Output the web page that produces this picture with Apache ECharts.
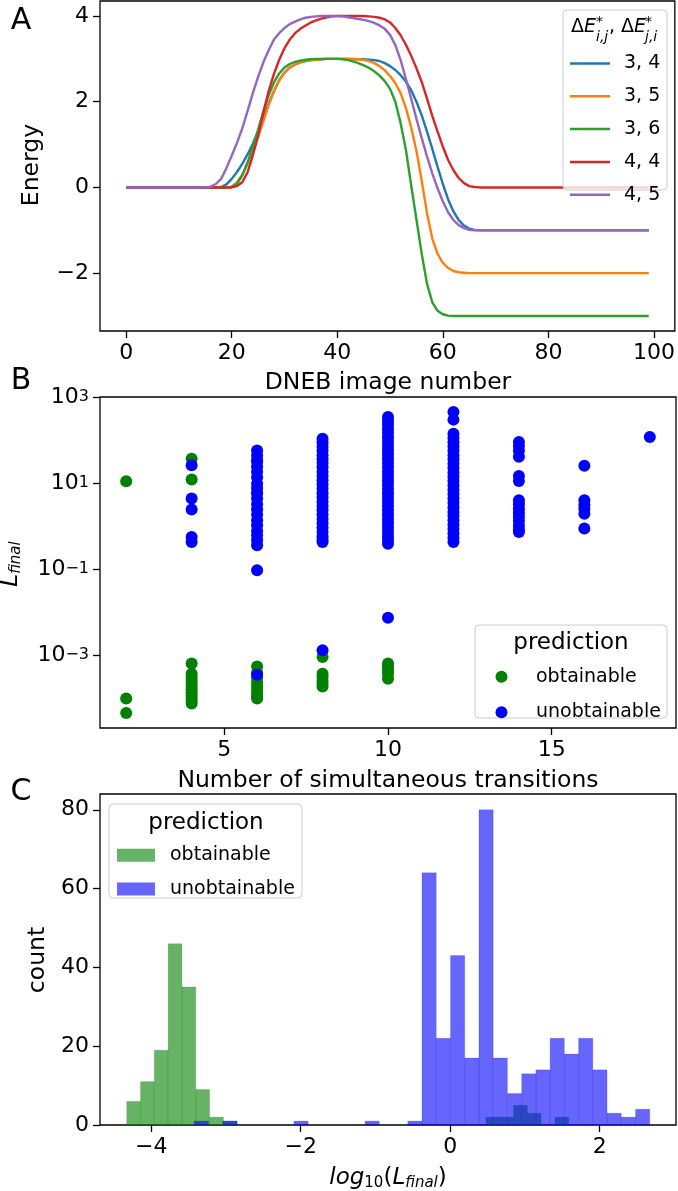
<!DOCTYPE html>
<html><head><meta charset="utf-8">
<script src="https://cdn.jsdelivr.net/npm/echarts@6/dist/echarts.min.js"></script>
<style>html,body{margin:0;padding:0;background:#fff}#c{width:678px;height:1191px}</style>
</head><body><div id="c"></div><script>
// ---------- Panel A: DNEB energy profiles (image number 0..99) ----------
const energy34 = [0,0,0,0,0,0,0,0,0,0,0,0,0,0,0,0,0,0,
  0.01,0.07,0.2,0.36,0.55,0.77,1.02,1.3,1.62,1.95,2.25,2.5,2.68,2.8,2.87,2.92,2.95,2.97,2.98,2.99,3.0,3.0,3.0,3.0,3.0,3.0,2.99,2.99,2.98,2.97,2.95,2.9,2.83,2.74,2.62,2.47,2.27,2.0,1.68,1.3,0.9,0.48,0.08,-0.28,-0.56,-0.76,-0.89,-0.96,-0.99,
  -1,-1,-1,-1,-1,-1,-1,-1,-1,-1,-1,-1,-1,-1,-1,-1,-1,-1,-1,-1,-1,-1,-1,-1,-1,-1,-1,-1,-1,-1,-1,-1,-1];
const energy35 = [0,0,0,0,0,0,0,0,0,0,0,0,0,0,0,0,0,0,0,0,
  0.02,0.12,0.3,0.55,0.85,1.18,1.55,1.92,2.24,2.5,2.68,2.8,2.87,2.92,2.95,2.97,2.98,2.99,3.0,3.0,3.0,3.0,3.0,2.99,2.99,2.98,2.95,2.9,2.83,2.73,2.6,2.43,2.2,1.85,1.4,0.85,0.15,-0.6,-1.2,-1.55,-1.76,-1.88,-1.95,-1.98,-1.99,
  -2,-2,-2,-2,-2,-2,-2,-2,-2,-2,-2,-2,-2,-2,-2,-2,-2,-2,-2,-2,-2,-2,-2,-2,-2,-2,-2,-2,-2,-2,-2,-2,-2,-2,-2];
const energy36 = [0,0,0,0,0,0,0,0,0,0,0,0,0,0,0,0,0,0,0,0,
  0.01,0.08,0.28,0.58,0.95,1.35,1.78,2.15,2.45,2.66,2.8,2.88,2.93,2.96,2.98,2.99,3.0,3.0,3.0,3.0,3.0,2.99,2.97,2.94,2.9,2.85,2.79,2.71,2.61,2.48,2.3,2.0,1.5,0.88,0.05,-0.75,-1.55,-2.25,-2.68,-2.88,-2.96,-2.99,
  -3,-3,-3,-3,-3,-3,-3,-3,-3,-3,-3,-3,-3,-3,-3,-3,-3,-3,-3,-3,-3,-3,-3,-3,-3,-3,-3,-3,-3,-3,-3,-3,-3,-3,-3,-3,-3,-3];
const energy44 = [0,0,0,0,0,0,0,0,0,0,0,0,0,0,0,0,0,0,0,0,
  0.0,0.03,0.12,0.35,0.75,1.2,1.75,2.25,2.65,2.98,3.25,3.45,3.6,3.7,3.78,3.85,3.9,3.94,3.97,3.99,4.0,4.0,4.0,4.0,4.0,4.0,3.99,3.98,3.96,3.92,3.85,3.72,3.55,3.33,3.07,2.78,2.46,2.07,1.67,1.3,0.95,0.64,0.4,0.22,0.1,0.03,0.01,
  0,0,0,0,0,0,0,0,0,0,0,0,0,0,0,0,0,0,0,0,0,0,0,0,0,0,0,0,0,0,0,0,0];
const energy45 = [0,0,0,0,0,0,0,0,0,0,0,0,0,0,0,0,
  0.02,0.08,0.2,0.45,0.74,1.04,1.38,1.78,2.2,2.58,2.92,3.2,3.45,3.6,3.72,3.81,3.87,3.92,3.96,3.98,3.99,4.0,4.0,4.0,4.0,3.99,3.97,3.95,3.93,3.91,3.88,3.84,3.78,3.7,3.56,3.32,2.97,2.53,2.07,1.6,1.15,0.72,0.33,-0.02,-0.33,-0.58,-0.76,-0.88,-0.95,-0.99,
  -1,-1,-1,-1,-1,-1,-1,-1,-1,-1,-1,-1,-1,-1,-1,-1,-1,-1,-1,-1,-1,-1,-1,-1,-1,-1,-1,-1,-1,-1,-1,-1,-1,-1];
const lineNames = ['3, 4', '3, 5', '3, 6', '4, 4', '4, 5'];
const lineValues = [energy34, energy35, energy36, energy44, energy45];
const energyTicks = [-2, 0, 2, 4];
const imageTicks = [0, 20, 40, 60, 80, 100];

// ---------- Panel B: L_final vs number of simultaneous transitions ----------
const obtainablePoints = [
  [2, 11.3], [2, 1.0e-4], [2, 4.6e-5],
  [4, 38], [4, 12.4], [4, 6.5e-4], [4, 3.8e-4], [4, 3.2e-4], [4, 2.7e-4], [4, 2.3e-4], [4, 1.95e-4],
  [4, 1.65e-4], [4, 1.4e-4], [4, 1.2e-4], [4, 1.0e-4], [4, 8.8e-5], [4, 7.7e-5],
  [6, 35], [6, 6.4], [6, 5.6e-4], [6, 4.0e-4], [6, 3.0e-4], [6, 2.4e-4], [6, 1.9e-4], [6, 1.55e-4],
  [6, 1.3e-4], [6, 1.1e-4], [6, 1.0e-4],
  [8, 9.3e-4], [8, 3.8e-4], [8, 3.2e-4], [8, 2.6e-4], [8, 2.2e-4], [8, 1.9e-4],
  [10, 6.5e-4], [10, 5.5e-4], [10, 4.6e-4], [10, 3.8e-4], [10, 2.9e-4]
];
const unobtainablePoints = [
  [4, 26.7], [4, 4.5], [4, 2.5], [4, 0.57], [4, 0.44],
  [6, 59], [6, 45], [6, 33], [6, 25], [6, 19], [6, 14], [6, 10], [6, 7.9], [6, 6.0], [6, 4.5], [6, 3.3],
  [6, 2.5], [6, 1.9], [6, 1.4], [6, 1.07], [6, 0.79], [6, 0.63], [6, 0.48], [6, 0.37], [6, 0.096], [6, 3.6e-4],
  [8, 111], [8, 90], [8, 72], [8, 58], [8, 46], [8, 37], [8, 30], [8, 24], [8, 19], [8, 15], [8, 12], [8, 9.5],
  [8, 7.6], [8, 6.0], [8, 4.8], [8, 3.8], [8, 3.0], [8, 2.4], [8, 1.9], [8, 1.5], [8, 1.2], [8, 0.95], [8, 0.76],
  [8, 0.6], [8, 0.5], [8, 0.44], [8, 1.33e-3],
  [10, 354], [10, 290], [10, 240], [10, 190], [10, 150], [10, 120], [10, 95], [10, 75], [10, 60], [10, 48],
  [10, 38], [10, 30], [10, 24], [10, 19], [10, 15], [10, 12], [10, 9.5], [10, 7.5], [10, 6], [10, 4.8], [10, 3.8],
  [10, 3.0], [10, 2.4], [10, 1.9], [10, 1.5], [10, 1.2], [10, 0.95], [10, 0.75], [10, 0.6], [10, 0.5], [10, 0.4], [10, 7.6e-3],
  [12, 462], [12, 308], [12, 145], [12, 115], [12, 92], [12, 73], [12, 58], [12, 46], [12, 37], [12, 29], [12, 23],
  [12, 18], [12, 14.5], [12, 11.5], [12, 9], [12, 7.2], [12, 5.7], [12, 4.5], [12, 3.6], [12, 2.8], [12, 2.2],
  [12, 1.8], [12, 1.4], [12, 1.1], [12, 0.88], [12, 0.7], [12, 0.55], [12, 0.44],
  [14, 93], [14, 75], [14, 58], [14, 42], [14, 15], [14, 11.5], [14, 4.1], [14, 3.3], [14, 2.6], [14, 2.1],
  [14, 1.7], [14, 1.35], [14, 1.05], [14, 0.85], [14, 0.75],
  [16, 26.2], [16, 4.1], [16, 3.2], [16, 2.6], [16, 2.0], [16, 0.9],
  [18, 121]
];
const transitionTicks = [5, 10, 15];
const logTicks = [-3, -1, 1, 3];

// ---------- Panel C: histogram of log10(L_final) ----------
const obtainableBinStart = -4.328, obtainableBinWidth = 0.1848;
const obtainableCounts = [6, 11, 19, 46, 35, 9, 2, 1, 0, 0, 0, 0, 0, 0, 0, 0, 0, 0, 0, 0, 0, 0, 0, 0, 0, 0, 2, 2, 5, 3, 0, 2];
const unobtainableBinStart = -3.424, unobtainableBinWidth = 0.1904;
const unobtainableCounts = [1, 0, 1, 0, 0, 0, 0, 1, 0, 0, 0, 0, 1, 0, 0, 1, 64, 22, 43, 17, 80, 17, 8, 13, 14, 22, 18, 22, 14, 3, 2, 4];
const histXTicks = [-4, -2, 0, 2];
const countTicks = [0, 20, 40, 60, 80];

// ---------- build ----------
const FONT = 'DejaVu Sans';
const BLACK = '#000';
const lineColors = ['#1f77b4', '#ff7f0e', '#2ca02c', '#d62728', '#9467bd'];
const minus = v => String(v).replace('-', '\u2212');
const chart = echarts.init(document.getElementById('c'), null, {renderer: 'canvas', width: 678, height: 1191});

const tickStyle = {show: true, length: 7, lineStyle: {color: BLACK, width: 1.3}};
const labelBase = {color: BLACK, fontFamily: FONT, fontSize: 22};
function valueAxis(gi, min, max, ticks, margin, extraLabel) {
  return {
    type: 'value', gridIndex: gi, min, max,
    axisLine: {show: false, onZero: false}, splitLine: {show: false},
    axisTick: Object.assign({customValues: ticks}, tickStyle),
    axisLabel: Object.assign({customValues: ticks, margin, formatter: v => minus(v)}, labelBase, extraLabel || {})
  };
}

const histData = (start, width, counts) =>
  counts.map((c, k) => [start + k * width, start + (k + 1) * width, c]).filter(d => d[2] > 0);
const histRender = (fill, stroke) => function (params, api) {
  const a = api.coord([api.value(0), api.value(2)]);
  const b = api.coord([api.value(1), 0]);
  return {type: 'rect', shape: {x: a[0], y: a[1], width: b[0] - a[0], height: b[1] - a[1]},
    style: {fill, stroke, lineWidth: 0.6}};
};
const GREEN_H = 'rgba(0,128,0,0.6)', BLUE_H = 'rgba(0,0,255,0.6)';

const series = [];
lineNames.forEach((name, k) => {
  series.push({type: 'line', name, xAxisIndex: 0, yAxisIndex: 0, symbol: 'none', showSymbol: false,
    data: lineValues[k].map((v, i) => [i, v]), lineStyle: {width: 2.4, color: lineColors[k]},
    itemStyle: {color: lineColors[k]}, animation: false, z: 2});
});
series.push({type: 'scatter', name: 'B_obt', xAxisIndex: 1, yAxisIndex: 1, symbolSize: 12,
  itemStyle: {color: '#008000', opacity: 1}, data: obtainablePoints.map(p => [p[0], Math.log10(p[1])]), animation: false});
series.push({type: 'scatter', name: 'B_unobt', xAxisIndex: 1, yAxisIndex: 1, symbolSize: 12,
  itemStyle: {color: '#0000ff', opacity: 1}, data: unobtainablePoints.map(p => [p[0], Math.log10(p[1])]), animation: false});
series.push({type: 'custom', name: 'C_obt', xAxisIndex: 2, yAxisIndex: 2, itemStyle: {color: GREEN_H},
  encode: {x: [0, 1], y: 2}, renderItem: histRender(GREEN_H, 'rgba(0,100,0,0.25)'),
  data: histData(obtainableBinStart, obtainableBinWidth, obtainableCounts), animation: false});
series.push({type: 'custom', name: 'C_unobt', xAxisIndex: 2, yAxisIndex: 2, itemStyle: {color: BLUE_H},
  encode: {x: [0, 1], y: 2}, renderItem: histRender(BLUE_H, 'rgba(0,0,160,0.25)'),
  data: histData(unobtainableBinStart, unobtainableBinWidth, unobtainableCounts), animation: false});

const legendText = {fontFamily: FONT, fontSize: 19, color: BLACK};
const legendName = n => n.replace(/^[BC]_/, '').replace('unobt', 'unobtainable').replace(/^obt$/, 'obtainable');

function txt(x, y, text, size, extra) {
  return Object.assign({type: 'text', x, y, z: 12,
    style: Object.assign({text, fontFamily: FONT, fontSize: size, fill: BLACK,
      align: 'center', verticalAlign: 'middle', textAlign: 'center', textVerticalAlign: 'middle'}, (extra && extra.style) || {})},
    extra && extra.rotation ? {rotation: extra.rotation} : {});
}
function box(x, y, w, h) {
  return {type: 'rect', z: 8, shape: {x, y, width: w, height: h, r: 4},
    style: {fill: 'rgba(255,255,255,0.8)', stroke: '#cccccc', lineWidth: 1}};
}
const R90 = Math.PI / 2;
const richMain = {n: {fontSize: 19, fontFamily: FONT}, i: {fontSize: 19, fontStyle: 'italic', fontFamily: FONT}};
const graphics = [
  box(563, 10, 104, 180), box(475, 625, 192, 93), box(109, 804, 193, 94),
  // legend A title
  txt(571, 27, '{n|\u0394}{i|E}', 19, {style: {align: 'left', textAlign: 'left', rich: richMain}}),
  txt(596, 22, '*', 14, {style: {align: 'left', textAlign: 'left'}}),
  txt(596, 37, 'i,j', 14, {style: {align: 'left', textAlign: 'left', fontStyle: 'italic'}}),
  txt(609, 27, '{n|, \u0394}{i|E}', 19, {style: {align: 'left', textAlign: 'left', rich: richMain}}),
  txt(645, 22, '*', 14, {style: {align: 'left', textAlign: 'left'}}),
  txt(645, 37, 'j,i', 14, {style: {align: 'left', textAlign: 'left', fontStyle: 'italic'}}),
  // legend titles B, C
  txt(571, 643, 'prediction', 23),
  txt(206, 823, 'prediction', 23),
  // panel letters
  txt(21, 21, 'A', 30), txt(21, 381, 'B', 30), txt(21, 792, 'C', 30),
  // axis names
  txt(32, 165, 'Energy', 23.5, {rotation: R90}),
  txt(388, 383, 'DNEB image number', 23.5),
  txt(11, 564, '{L|L}{s|final}', 23, {rotation: R90, style: {rich: {
    L: {fontSize: 23, fontStyle: 'italic', fontFamily: FONT, lineHeight: 26, verticalAlign: 'middle'},
    s: {fontSize: 15, fontStyle: 'italic', fontFamily: FONT, lineHeight: 15, verticalAlign: 'bottom'}}}}),
  txt(388, 781, 'Number of simultaneous transitions', 23.5),
  txt(38, 960, 'count', 23.5, {rotation: R90}),
  txt(388, 1178, '{i|log}{d|10}{n|(}{i|L}{s|final}{n|)}', 23, {style: {rich: {
    i: {fontSize: 23, fontStyle: 'italic', fontFamily: FONT, lineHeight: 26, verticalAlign: 'middle'},
    n: {fontSize: 23, fontFamily: FONT, lineHeight: 26, verticalAlign: 'middle'},
    d: {fontSize: 15, fontFamily: FONT, lineHeight: 15, verticalAlign: 'bottom'},
    s: {fontSize: 15, fontStyle: 'italic', fontFamily: FONT, lineHeight: 15, verticalAlign: 'bottom'}}}})
];

const option = {
  backgroundColor: '#fff',
  animation: false,
  grid: [
    {left: 100, top: 1, width: 576, height: 330, show: true, borderColor: BLACK, borderWidth: 1.3},
    {left: 100, top: 397, width: 576, height: 331, show: true, borderColor: BLACK, borderWidth: 1.3},
    {left: 100, top: 794, width: 576, height: 331, show: true, borderColor: BLACK, borderWidth: 1.3}
  ],
  xAxis: [
    valueAxis(0, -4.95, 103.95, imageTicks, 11),
    valueAxis(1, 1.2, 18.8, transitionTicks, 11),
    valueAxis(2, -4.685, 3.02, histXTicks, 11)
  ],
  yAxis: [
    valueAxis(0, -3.35, 4.35, energyTicks, 11),
    valueAxis(1, -4.685, 3.015, logTicks, 11, {
      formatter: v => '{b|10}{s|' + minus(v) + '}',
      rich: {
        b: {fontSize: 22, fontFamily: FONT, color: BLACK, lineHeight: 22, padding: [8, 0, 0, 0], verticalAlign: 'bottom'},
        s: {fontSize: 16, fontFamily: FONT, color: BLACK, lineHeight: 16, padding: [2, 0, 0, 0], verticalAlign: 'top'}
      }
    }),
    valueAxis(2, 0, 84, countTicks, 11)
  ],
  legend: [
    {left: 570, top: 54, orient: 'vertical', padding: 0, itemWidth: 40, itemHeight: 2.5, itemGap: 13.8,
      icon: 'rect', data: lineNames, selectedMode: false, z: 12,
      textStyle: Object.assign({lineHeight: 14, padding: [0, 0, 0, 9]}, legendText)},
    {left: 495.5, top: 667.3, orient: 'vertical', padding: 0, itemWidth: 12, itemHeight: 12, itemGap: 16.4,
      icon: 'circle', data: ['B_obt', 'B_unobt'], formatter: legendName, selectedMode: false, z: 12,
      textStyle: Object.assign({lineHeight: 12, padding: [0, 0, 0, 23.5]}, legendText)},
    {left: 117, top: 845.8, orient: 'vertical', padding: 0, itemWidth: 38, itemHeight: 13, itemGap: 14.7,
      icon: 'rect', data: [{name: 'C_obt', itemStyle: {color: GREEN_H}}, {name: 'C_unobt', itemStyle: {color: BLUE_H}}],
      formatter: legendName, selectedMode: false, z: 12,
      textStyle: Object.assign({lineHeight: 13, padding: [0, 0, 0, 10]}, legendText)}
  ],
  graphic: {elements: graphics},
  series
};
chart.setOption(option);
</script></body></html>
